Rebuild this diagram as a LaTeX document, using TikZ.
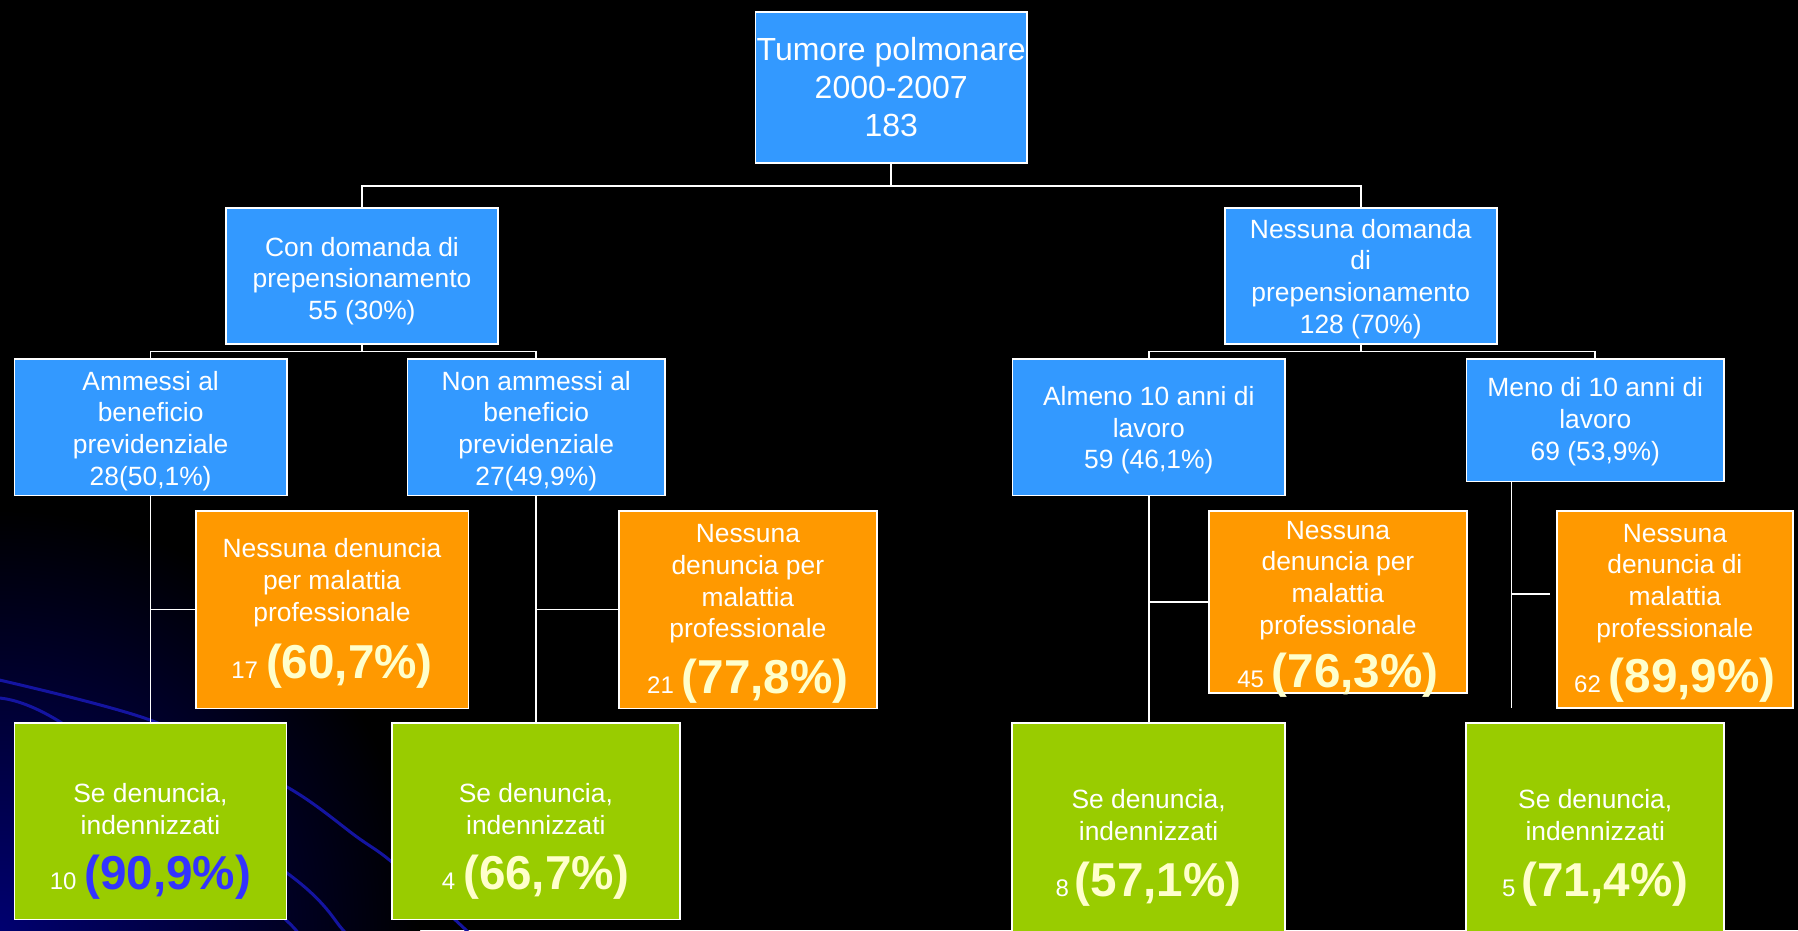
\documentclass[tikz,border=0pt]{standalone}
\usepackage{fontspec}
\setmainfont{Liberation Sans}
\definecolor{boxblue}{HTML}{3399FF}
\definecolor{boxorange}{HTML}{FF9900}
\definecolor{boxgreen}{HTML}{99CC00}
\definecolor{paleyellow}{HTML}{FFFFCC}
\definecolor{numblue}{HTML}{3333FF}
\definecolor{swoosh}{HTML}{1414A0}
\definecolor{navyglow}{HTML}{000070}
\newcommand\bignum[1]{{\bfseries\fontsize{47.6}{50}\selectfont #1}}
\newcommand\smallnum[1]{{\fontsize{24}{28}\selectfont #1}}
\begin{document}
\begin{tikzpicture}[x=1pt,y=-1pt,
  box/.style={draw=white, line width=1.6pt, inner sep=0pt, outer sep=0pt},
  bluebox/.style={box, fill=boxblue},
  orangebox/.style={box, fill=boxorange},
  greenbox/.style={box, fill=boxgreen},
  txt/.style={text=white, align=center, inner sep=0pt, font=\fontsize{26.4}{31.7}\selectfont},
  conn/.style={draw=white, line width=1.6pt},
  curve/.style={draw=swoosh, line width=3pt}]
\useasboundingbox (0,0) rectangle (1798,930);
\fill[black] (0,0) rectangle (1798,930);
\begin{scope}
\clip (0,0) rectangle (1798,930);
\shade[inner color=navyglow, outer color=black] (0,930) circle (420pt);
\draw[curve] plot[smooth] coordinates {(-5,679) (150,720) (287,787) (357,837) (393,863) (466,930) (480,945)};
\draw[curve] plot[smooth] coordinates {(-5,698) (57,720) (287,873) (343,930) (355,945)};
\draw[curve] plot[smooth] coordinates {(150,800) (286,920) (300,940)};

% boxes
\node[bluebox, minimum width=271.7pt, minimum height=151pt] (top) at (891.25,87.2) {};
\node[bluebox, minimum width=272pt, minimum height=136pt] (con) at (362,276) {};
\node[bluebox, minimum width=272.1pt, minimum height=136pt] (ness) at (1360.75,276) {};
\node[bluebox, minimum width=272.7pt, minimum height=136.5pt] (amm) at (150.65,427.25) {};
\node[bluebox, minimum width=257.5pt, minimum height=136.5pt] (nonamm) at (536.25,427.25) {};
\node[bluebox, minimum width=272.5pt, minimum height=136.5pt] (alm) at (1148.75,427.25) {};
\node[bluebox, minimum width=257.9pt, minimum height=122.3pt] (meno) at (1595.25,420.15) {};
\node[orangebox, minimum width=272.6pt, minimum height=197.6pt] (o1) at (332,609.5) {};
\node[orangebox, minimum width=257.9pt, minimum height=197.6pt] (o2) at (747.85,609.5) {};
\node[orangebox, minimum width=257.5pt, minimum height=182pt] (o3) at (1337.95,601.7) {};
\node[orangebox, minimum width=236.3pt, minimum height=197pt] (o4) at (1674.85,609.2) {};
\node[greenbox, minimum width=272.3pt, minimum height=196.6pt] (g1) at (150.45,821) {};
\node[greenbox, minimum width=287.7pt, minimum height=196.6pt] (g2) at (535.85,821) {};
\node[greenbox, minimum width=272.8pt, minimum height=230pt] (g3) at (1148.6,837.7) {};
\node[greenbox, minimum width=258pt, minimum height=230pt] (g4) at (1595.2,837.7) {};

% texts
\node[txt, font=\fontsize{32}{38}\selectfont] (ttop) at (top.center) {Tumore polmonare\\2000-2007\\183};
\node[txt] (tcon) at ([yshift=-5pt]con.center) {Con domanda di\\prepensionamento\\55 (30\%)};
\node[txt] (tness) at ([yshift=-3pt]ness.center) {Nessuna domanda\\di\\prepensionamento\\128 (70\%)};
\node[txt] (tamm) at ([yshift=-3.5pt]amm.center) {Ammessi al\\beneficio\\previdenziale\\28(50,1\%)};
\node[txt] (tnonamm) at ([yshift=-3.5pt]nonamm.center) {Non ammessi al\\beneficio\\previdenziale\\27(49,9\%)};
\node[txt] (talm) at ([yshift=-3pt]alm.center) {Almeno 10 anni di\\lavoro\\59 (46,1\%)};
\node[txt] (tmeno) at ([yshift=-1.5pt]meno.center) {Meno di 10 anni di\\lavoro\\69 (53,9\%)};

\node[txt] (to1) at (332,613.5) {Nessuna denuncia\\per malattia\\professionale\\[16pt]\smallnum{17}\hspace{8pt}\textcolor{paleyellow}{\bignum{(60,7\%)}}};
\node[txt] (to2) at (747.85,614) {Nessuna\\denuncia per\\malattia\\professionale\\[15pt]\smallnum{21}\hspace{8pt}\textcolor{paleyellow}{\bignum{(77,8\%)}}};
\node[txt] (to3) at (1337.95,609) {Nessuna\\denuncia per\\malattia\\professionale\\[12pt]\smallnum{45}\hspace{8pt}\textcolor{paleyellow}{\bignum{(76,3\%)}}};
\node[txt] (to4) at (1674.85,613) {Nessuna\\denuncia di\\malattia\\professionale\\[14pt]\smallnum{62}\hspace{8pt}\textcolor{paleyellow}{\bignum{(89,9\%)}}};

\node[txt] (tg1) at (150.45,841.6) {Se denuncia,\\indennizzati\\[20pt]\smallnum{10}\hspace{8pt}\textcolor{numblue}{\bignum{(90,9\%)}}};
\node[txt] (tg2) at (535.85,841.6) {Se denuncia,\\indennizzati\\[20pt]\smallnum{4}\hspace{8pt}\textcolor{paleyellow}{\bignum{(66,7\%)}}};
\node[txt] (tg3) at (1148.6,848) {Se denuncia,\\indennizzati\\[20pt]\smallnum{8}\hspace{6pt}\textcolor{paleyellow}{\bignum{(57,1\%)}}};
\node[txt] (tg4) at (1595.2,848) {Se denuncia,\\indennizzati\\[20pt]\smallnum{5}\hspace{6pt}\textcolor{paleyellow}{\bignum{(71,4\%)}}};

% connectors
\coordinate (j0) at (891.25,186);
\draw[conn] (top.south) -- (j0);
\draw[conn] (con.north) |- (j0) -| (ness.north);
\coordinate (j1) at (362,351.3);
\draw[conn] (con.south) -- (j1);
\draw[conn] (amm.north) |- (j1) -| (nonamm.north);
\coordinate (j2) at (1360.75,351.3);
\draw[conn] (ness.south) -- (j2);
\draw[conn] (alm.north) |- (j2) -| (meno.north);

\draw[conn] (amm.south) -- (amm.south |- g1.north);
\draw[conn] (amm.south |- o1.west) -- (o1.west);
\draw[conn] (nonamm.south) -- (nonamm.south |- g2.north);
\draw[conn] (nonamm.south |- o2.west) -- (o2.west);
\draw[conn] (alm.south) -- (alm.south |- g3.north);
\draw[conn] (alm.south |- o3.west) -- (o3.west);
\coordinate (mt) at ([xshift=45.2pt]meno.south west);
\coordinate (mb) at (1511.5,708.3);
\coordinate (mr) at (1549.6,594);
\draw[conn] (mt) -- (mb);
\draw[conn] (mt |- mr) -- (mr);
\end{scope}
\end{tikzpicture}
\end{document}
